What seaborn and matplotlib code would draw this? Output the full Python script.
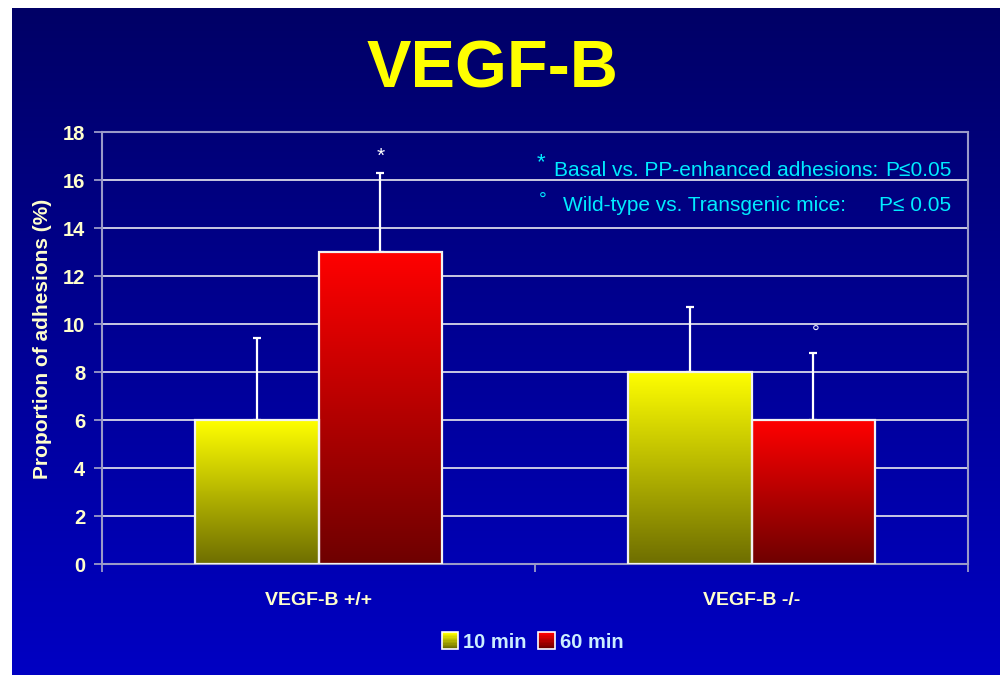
import numpy as np
import pandas as pd
import matplotlib
matplotlib.use("Agg")
import matplotlib.pyplot as plt
import seaborn as sns
from matplotlib.patches import Rectangle
from matplotlib.legend_handler import HandlerBase
from matplotlib.colors import LinearSegmentedColormap

# ---- data ----
categories = ["VEGF-B +/+", "VEGF-B -/-"]
times = ["10 min", "60 min"]
means_10 = [6.0, 8.0]
means_60 = [13.0, 6.0]
err_10 = [3.4, 2.7]
err_60 = [3.3, 2.8]
y_ticks = [0, 2, 4, 6, 8, 10, 12, 14, 16, 18]

df = pd.DataFrame({
    "group": categories * 2,
    "time": [times[0]] * 2 + [times[1]] * 2,
    "value": means_10 + means_60,
    "err": err_10 + err_60,
})

plt.rcParams["font.family"] = ["Liberation Sans", "DejaVu Sans"]

fig = plt.figure(figsize=(10, 6.75), dpi=100)
fig.patch.set_facecolor("white")

# background gradient panel
bg = fig.add_axes([0.012, 0.0, 0.988, 1 - 8 / 675], zorder=-10)
bg_cmap = LinearSegmentedColormap.from_list("bg", ["#000066", "#0000C3"])
bg.imshow(np.linspace(0, 1, 256).reshape(-1, 1), aspect="auto", cmap=bg_cmap,
          extent=[0, 1, 1, 0])
bg.set_axis_off()

ax = fig.add_axes([0.102, 1 - 564 / 675, 0.866, 432 / 675])
ax.set_facecolor("none")

grad = {
    times[0]: ("#FFFF00", "#6E6E00"),
    times[1]: ("#FF0000", "#6E0000"),
}

sns.barplot(data=df, x="group", y="value", hue="time", order=categories,
            hue_order=times, width=0.57, ax=ax, errorbar=None,
            palette=[grad[t][0] for t in times], legend=False,
            edgecolor="#F2F2F2", linewidth=1.6, saturation=1, zorder=3)

# gradient fills per bar
grad_img = np.linspace(0, 1, 256).reshape(-1, 1)
for t_i, t in enumerate(times):
    cmap = LinearSegmentedColormap.from_list("g" + str(t_i), [grad[t][0], grad[t][1]])
    for c_i in range(len(categories)):
        p = ax.patches[t_i * len(categories) + c_i]
        x0, w, h = p.get_x(), p.get_width(), p.get_height()
        im = ax.imshow(grad_img, aspect="auto", cmap=cmap,
                       extent=[x0, x0 + w, 0, h], origin="upper", zorder=2.5)
        im.set_clip_path(p)
        p.set_facecolor("none")

# error bars (upper only)
vals = [means_10, means_60]
errs = [err_10, err_60]
for t_i in range(len(times)):
    xs = []
    for c_i in range(len(categories)):
        p = ax.patches[t_i * len(categories) + c_i]
        xs.append(p.get_x() + p.get_width() / 2)
    ax.errorbar(xs, vals[t_i], yerr=[np.zeros(len(xs)), errs[t_i]], fmt="none",
                ecolor="white", elinewidth=1.6, capsize=3, capthick=1.6, zorder=2)

ax.set_xlim(-0.5, 1.5)
ax.set_ylim(0, 18)
ax.set_yticks(y_ticks)
ax.yaxis.grid(True, color="#D8D8E8", linewidth=1.3, zorder=0)
ax.set_axisbelow(True)
for s in ax.spines.values():
    s.set_color("#9A9AC8")
    s.set_linewidth(1.5)

ax.tick_params(axis="y", colors="#9A9AC8", length=6, width=1.3, pad=6,
               labelcolor="#FFFFCC", labelsize=14.5)
for lab in ax.get_yticklabels():
    lab.set_fontweight("bold")
ax.set_xticks([-0.5, 0.5, 1.5], minor=True)
ax.tick_params(axis="x", which="minor", length=6, width=1.3, colors="#9A9AC8")
ax.tick_params(axis="x", which="major", length=0, pad=20, labelcolor="#FFFFCC",
               labelsize=14)
for lab in ax.get_xticklabels():
    lab.set_fontweight("bold")
ax.set_xlabel("")
ax.set_ylabel("Proportion of adhesions (%)", color="#FFFFCC", fontsize=15,
              fontweight="bold")
ax.yaxis.set_label_coords(-0.058, 0.52)

# significance markers
p60_0 = ax.patches[len(categories) + 0]
p60_1 = ax.patches[len(categories) + 1]
ax.text(p60_0.get_x() + p60_0.get_width() / 2, 17.0, "*", color="white",
        fontsize=15, ha="center", va="center", zorder=5)
ax.text(p60_1.get_x() + p60_1.get_width() / 2 + 0.005, 9.62, "°", color="#E8E8FF",
        fontsize=14, ha="center", va="center", zorder=5)

# notes
cyan = "#00ECFF"
ax.text(0.507, 0.928, "*", transform=ax.transAxes, color=cyan, fontsize=16,
        ha="center", va="center")
ax.text(0.522, 0.911, "Basal vs. PP-enhanced adhesions:", transform=ax.transAxes,
        color=cyan, fontsize=15, ha="left", va="center")
ax.text(0.9815, 0.911, "P≤0.05", transform=ax.transAxes, color=cyan, fontsize=15,
        ha="right", va="center")
ax.text(0.509, 0.842, "°", transform=ax.transAxes, color=cyan, fontsize=14,
        ha="center", va="center")
ax.text(0.532, 0.830, "Wild-type vs. Transgenic mice:", transform=ax.transAxes,
        color=cyan, fontsize=15, ha="left", va="center")
ax.text(0.980, 0.830, "P≤ 0.05", transform=ax.transAxes, color=cyan, fontsize=15,
        ha="right", va="center")

# title
fig.text(0.4925, 1 - 87 / 675, "VEGF-B", color="#FFFF00", fontsize=48,
         fontweight="bold", ha="center", va="baseline")


# legend with gradient squares
class GradHandler(HandlerBase):
    def __init__(self, top, bottom):
        super().__init__()
        self.top, self.bottom = top, bottom

    def create_artists(self, legend, orig_handle, xdescent, ydescent, width,
                       height, fontsize, trans):
        cmap = LinearSegmentedColormap.from_list("lg", [self.bottom, self.top])
        arts = []
        n = 12
        side = height * 1.1
        x0 = -xdescent + (width - side) / 2
        y0 = -ydescent + (height - side) / 2
        for i in range(n):
            r = Rectangle((x0, y0 + side * i / n), side, side / n + 0.2,
                          facecolor=cmap(i / (n - 1)), edgecolor="none",
                          transform=trans)
            arts.append(r)
        arts.append(Rectangle((x0, y0), side, side, facecolor="none",
                              edgecolor="white", linewidth=1.2, transform=trans))
        return arts


h1 = Rectangle((0, 0), 1, 1)
h2 = Rectangle((0, 0), 1, 1)
leg = fig.legend([h1, h2], times, loc="center", bbox_to_anchor=(0.533, 1 - 642 / 675),
                 ncol=2, frameon=False, fontsize=14.5, handlelength=0.75,
                 handleheight=0.75, handletextpad=0.3, columnspacing=0.6,
                 handler_map={h1: GradHandler(*grad[times[0]]),
                              h2: GradHandler(*grad[times[1]])})
for t in leg.get_texts():
    t.set_color("#CCEEFF")
    t.set_fontweight("bold")

fig.savefig("out.png", dpi=100)
